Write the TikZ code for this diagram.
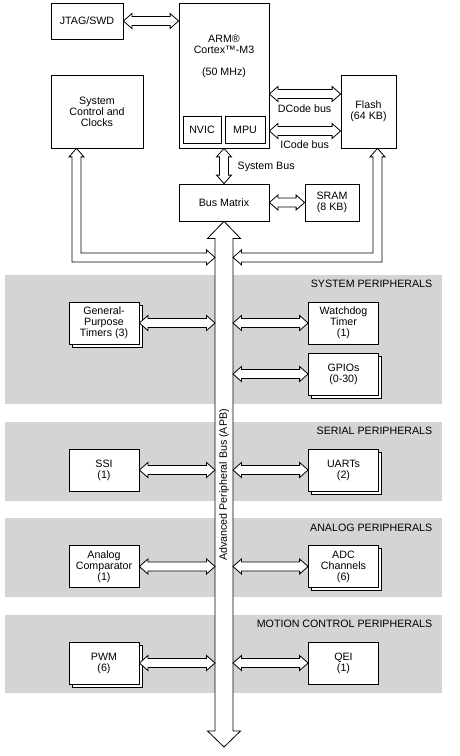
\documentclass[tikz,border=0pt]{standalone}
\usepackage{fontspec}
\setmainfont{Liberation Sans}
\usepackage{tikz}
\usetikzlibrary{calc,shadows}
\definecolor{bandgray}{RGB}{212,212,212}
\newcommand{\hbus}[2]{%
  \draw[bus] (#1) -- ($(#1)+(8.5,-7.5)$) -- ($(#1)+(8.5,-4.5)$) -- ($(#2)+(-8.5,-4.5)$)
    -- ($(#2)+(-8.5,-7.5)$) -- (#2) -- ($(#2)+(-8.5,7.5)$) -- ($(#2)+(-8.5,4.5)$)
    -- ($(#1)+(8.5,4.5)$) -- ($(#1)+(8.5,7.5)$) -- cycle;}
\newcommand{\vbus}[2]{%
  \draw[bus] (#1) -- ($(#1)+(7.5,8.5)$) -- ($(#1)+(4.5,8.5)$) -- ($(#2)+(4.5,-8.5)$)
    -- ($(#2)+(7.5,-8.5)$) -- (#2) -- ($(#2)+(-7.5,-8.5)$) -- ($(#2)+(-4.5,-8.5)$)
    -- ($(#1)+(-4.5,8.5)$) -- ($(#1)+(-7.5,8.5)$) -- cycle;}

\begin{document}
\begin{tikzpicture}[x=0.75pt,y=-0.75pt,font=\fontsize{8}{8.25}\selectfont,
  box/.style={draw,fill=white,line width=0.6pt,inner sep=0pt,align=center,
    minimum width=52.5pt,minimum height=31.5pt},
  stack/.style={box,copy shadow={shadow xshift=2.25pt,shadow yshift=-2.25pt,
    draw=black,fill=white,line width=0.6pt}},
  bus/.style={draw,fill=white,line width=0.6pt},
  band/.style={fill=bandgray},
  bandlabel/.style={anchor=east}]
  \useasboundingbox (0,0) rectangle (460,756);
  \fill[band] (5,275) rectangle (442,404);
  \fill[band] (5,422) rectangle (442,501);
  \fill[band] (5,518) rectangle (442,597);
  \fill[band] (5,615) rectangle (442,693);
  \node[bandlabel] (syslabel) at (437,284) {SYSTEM PERIPHERALS};
  \node[bandlabel] (serlabel) at (437,431) {SERIAL PERIPHERALS};
  \node[bandlabel] (analabel) at (437,528) {ANALOG PERIPHERALS};
  \node[bandlabel] (motlabel) at (437,624) {MOTION CONTROL PERIPHERALS};

  \node[box,minimum width=54pt,minimum height=27pt] (jtag) at (87,21) {JTAG/SWD};
  \node[box,minimum width=67.5pt,minimum height=108.75pt] (arm) at (224,75.5) {};
  \node[align=center] (armtext) at (224,56) {ARM\textregistered\\Cortex\texttrademark-M3\\ \\(50 MHz)};
  \node[box,minimum width=28.5pt,minimum height=20.25pt] (nvic) at (202,129.5) {NVIC};
  \node[box,minimum width=30pt,minimum height=20.25pt] (mpu) at (245,129.5) {MPU};
  \node[box,minimum width=69pt,minimum height=54.75pt] (sysctl) at (97,111.5) {System\\Control and\\Clocks};
  \node[box,minimum width=41.25pt,minimum height=54.75pt] (flash) at (368.5,111.5) {Flash\\(64 KB)};
  \node[box,minimum width=67.5pt,minimum height=27.75pt] (busmatrix) at (224,202.5) {Bus Matrix};
  \node[box,minimum width=40.5pt,minimum height=27.75pt] (sram) at (332,202.5) {SRAM\\(8 KB)};

  \coordinate (apbend) at (224,747);
  \coordinate (apbL) at ($(busmatrix.south)+(-9,0)$);
  \coordinate (apbR) at ($(busmatrix.south)+(9,0)$);
  \draw[bus] (busmatrix.south) -- ($(busmatrix.south)+(16.5,17)$) -- ($(busmatrix.south)+(9,17)$)
    -- ($(apbend)+(9,-16)$) -- ($(apbend)+(16.5,-16)$) -- (apbend) -- ($(apbend)+(-16.5,-16)$)
    -- ($(apbend)+(-9,-16)$) -- ($(busmatrix.south)+(-9,17)$) -- ($(busmatrix.south)+(-16.5,17)$) -- cycle;
  \node[rotate=90] (apblabel) at (224,485) {Advanced Peripheral Bus (APB)};

  \node[stack] (gpt) at (104,323) {General-\\Purpose\\Timers (3)};
  \node[box] (wdt) at (343.5,323) {Watchdog\\Timer\\(1)};
  \node[stack] (gpio) at (343.5,374) {GPIOs\\(0-30)};
  \node[box] (ssi) at (104,470) {SSI\\(1)};
  \node[stack] (uart) at (343.5,470) {UARTs\\(2)};
  \node[box] (acmp) at (104,566.5) {Analog\\Comparator\\(1)};
  \node[stack] (adc) at (343.5,566.5) {ADC\\Channels\\(6)};
  \node[stack] (pwm) at (104,663) {PWM\\(6)};
  \node[box] (qei) at (343.5,663) {QEI\\(1)};

  \hbus{jtag.east}{jtag.east -| arm.west}
  \coordinate (dc) at ($(flash.west)+(0,-17.5)$);
  \coordinate (ic) at ($(flash.west)+(0,19.5)$);
  \hbus{arm.east |- dc}{dc}
  \hbus{arm.east |- ic}{ic}
  \node (dlabel) at ($(dc)+(-36,15)$) {DCode bus};
  \node (ilabel) at ($(ic)+(-36,14)$) {ICode bus};
  \vbus{arm.south}{busmatrix.north}
  \node[anchor=west] (sblabel) at ($(arm.south)+(9,18)$) {System Bus};
  \hbus{busmatrix.east}{sram.west}

  \coordinate (sc) at ($(sysctl.south)+(-20.5,0)$);
  \coordinate (scend) at ($(apbL)+(0,36)$);
  \coordinate (scb) at (sc |- scend);
  \draw[bus] (sc) -- ($(sc)+(7.5,8.5)$) -- ($(sc)+(4.5,8.5)$) -- ($(scb)+(4.5,-4.5)$)
    -- ($(scend)+(-8.5,-4.5)$) -- ($(scend)+(-8.5,-7.5)$) -- (scend) -- ($(scend)+(-8.5,7.5)$)
    -- ($(scend)+(-8.5,4.5)$) -- ($(scb)+(-4.5,4.5)$) -- ($(sc)+(-4.5,8.5)$) -- ($(sc)+(-7.5,8.5)$) -- cycle;
  \coordinate (fl) at ($(flash.south)+(9,0)$);
  \coordinate (flend) at ($(apbR)+(0,36)$);
  \coordinate (flb) at (fl |- flend);
  \draw[bus] (fl) -- ($(fl)+(-7.5,8.5)$) -- ($(fl)+(-4.5,8.5)$) -- ($(flb)+(-4.5,-4.5)$)
    -- ($(flend)+(8.5,-4.5)$) -- ($(flend)+(8.5,-7.5)$) -- (flend) -- ($(flend)+(8.5,7.5)$)
    -- ($(flend)+(8.5,4.5)$) -- ($(flb)+(4.5,4.5)$) -- ($(fl)+(4.5,8.5)$) -- ($(fl)+(7.5,8.5)$) -- cycle;

  \hbus{gpt.east}{gpt.east -| apbL}
  \hbus{wdt.west -| apbR}{wdt.west}
  \hbus{gpio.west -| apbR}{gpio.west}
  \hbus{ssi.east}{ssi.east -| apbL}
  \hbus{uart.west -| apbR}{uart.west}
  \hbus{acmp.east}{acmp.east -| apbL}
  \hbus{adc.west -| apbR}{adc.west}
  \hbus{pwm.east}{pwm.east -| apbL}
  \hbus{qei.west -| apbR}{qei.west}
\end{tikzpicture}
\end{document}
